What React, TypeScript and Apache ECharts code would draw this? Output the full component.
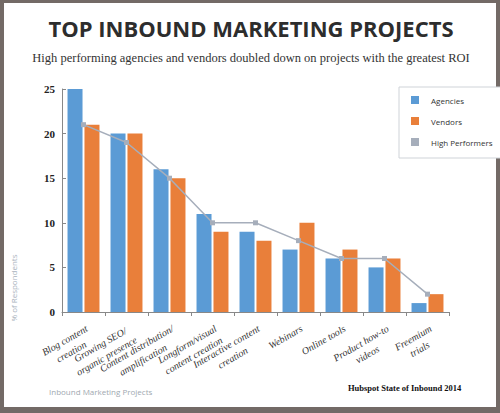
import React, { useEffect, useRef } from "react";
import * as echarts from "echarts";

const categories = [
  "Blog content\ncreation",
  "Growing SEO/\norganic presence",
  "Content distribution/\namplification",
  "Longform/visual\ncontent creation",
  "Interactive content\ncreation",
  "Webinars",
  "Online tools",
  "Product how-to\nvideos",
  "Freemium\ntrials",
];
const agencies = [25, 20, 16, 11, 9, 7, 6, 5, 1];
const vendors = [21, 20, 15, 9, 8, 10, 7, 6, 2];
const highPerformers = [21, 19, 15, 10, 10, 8, 6, 6, 2];
const yTicks = { min: 0, max: 25, interval: 5 };

const titleText = "TOP INBOUND MARKETING PROJECTS";
const subtitleText =
  "High performing agencies and vendors doubled down on projects with the greatest ROI";
const yName = "% of Respondents";
const footLeft = "Inbound Marketing Projects";
const footRight = "Hubspot State of Inbound 2014";

const BLUE = "#5b9bd5";
const ORANGE = "#e97f3a";
const GRAY = "#a6aebb";

export default function App() {
  const ref = useRef<HTMLDivElement>(null);
  useEffect(() => {
    if (!ref.current) return;
    const chart = echarts.init(ref.current, null, { renderer: "svg" });
    chart.setOption({
      animation: false,
      backgroundColor: "#736a66",
      graphic: [
        {
          type: "rect",
          z: -10,
          shape: { x: 4, y: 3, width: 492, height: 404 },
          style: { fill: "#ffffff" },
          silent: true,
        },
        {
          type: "text",
          x: 251,
          y: 28,
          style: {
            text: titleText,
            fill: "#2d2d2d",
            font: "bold 22px 'Open Sans'",
            align: "center",
            verticalAlign: "middle",
          },
        },
        {
          type: "text",
          x: 251,
          y: 58,
          style: {
            text: subtitleText,
            fill: "#333333",
            font: "12.5px 'Liberation Serif'",
            align: "center",
            verticalAlign: "middle",
          },
        },
        {
          type: "text",
          x: 13,
          y: 288,
          rotation: Math.PI / 2,
          style: {
            text: yName,
            fill: "#a9b3bd",
            font: "8px 'Open Sans'",
            align: "center",
            verticalAlign: "middle",
          },
        },
        {
          type: "text",
          x: 49,
          y: 391,
          style: {
            text: footLeft,
            fill: "#a0a8b0",
            font: "8px 'Open Sans'",
            align: "left",
            verticalAlign: "middle",
          },
        },
        {
          type: "text",
          x: 348,
          y: 388,
          style: {
            text: footRight,
            fill: "#111111",
            font: "bold 8.5px 'Liberation Serif'",
            align: "left",
            verticalAlign: "middle",
          },
        },
      ],
      legend: {
        orient: "vertical",
        left: 399,
        top: 87,
        padding: [9, 8, 12, 12],
        itemGap: 13,
        itemWidth: 8,
        itemHeight: 8,
        borderColor: "#cfd3d8",
        borderWidth: 1,
        backgroundColor: "#ffffff",
        icon: "rect",
        textStyle: {
          fontFamily: "Open Sans",
          fontSize: 8,
          color: "#333333",
          padding: [0, 0, 0, 7],
        },
        data: ["Agencies", "Vendors", "High Performers"],
      },
      grid: { left: 62, right: 51, top: 89, bottom: 101, containLabel: false },
      xAxis: {
        type: "category",
        data: categories,
        axisLine: { lineStyle: { color: "#888888", width: 1 } },
        axisTick: { show: true, length: 4, lineStyle: { color: "#888888" } },
        axisLabel: {
          rotate: 30,
          margin: 10,
          verticalAlign: "top",
          interval: 0,
          formatter: (v: string) =>
            v
              .split("\n")
              .map((l) => "{c|" + l + "}")
              .join("\n"),
          rich: {
            c: {
              align: "center",
              fontFamily: "Liberation Serif",
              fontStyle: "italic",
              fontSize: 10,
              lineHeight: 13,
              color: "#333333",
            },
          },
        },
      },
      yAxis: {
        type: "value",
        min: yTicks.min,
        max: yTicks.max,
        interval: yTicks.interval,
        splitLine: { show: false },
        axisLine: { show: true, lineStyle: { color: "#888888", width: 1 } },
        axisTick: { show: true, inside: true, length: 4, lineStyle: { color: "#888888" } },
        axisLabel: {
          margin: 7,
          fontFamily: "Liberation Serif",
          fontWeight: "bold",
          fontSize: 11,
          color: "#222222",
          padding: [6, 0, 0, 0],
        },
      },
      series: [
        {
          name: "Agencies",
          type: "bar",
          data: agencies,
          barWidth: 15,
          barGap: "13%",
          itemStyle: { color: BLUE },
        },
        {
          name: "Vendors",
          type: "bar",
          data: vendors,
          barWidth: 15,
          barGap: "13%",
          itemStyle: { color: ORANGE },
        },
        {
          name: "High Performers",
          type: "line",
          data: highPerformers,
          symbol: "rect",
          symbolSize: 5,
          z: 5,
          lineStyle: { color: GRAY, width: 1.5 },
          itemStyle: { color: GRAY },
        },
      ],
    });
    return () => chart.dispose();
  }, []);
  return (
    <div style={{ position: "absolute", left: 0, top: 0 }}>
      <div ref={ref} style={{ width: 500, height: 413 }} />
    </div>
  );
}
